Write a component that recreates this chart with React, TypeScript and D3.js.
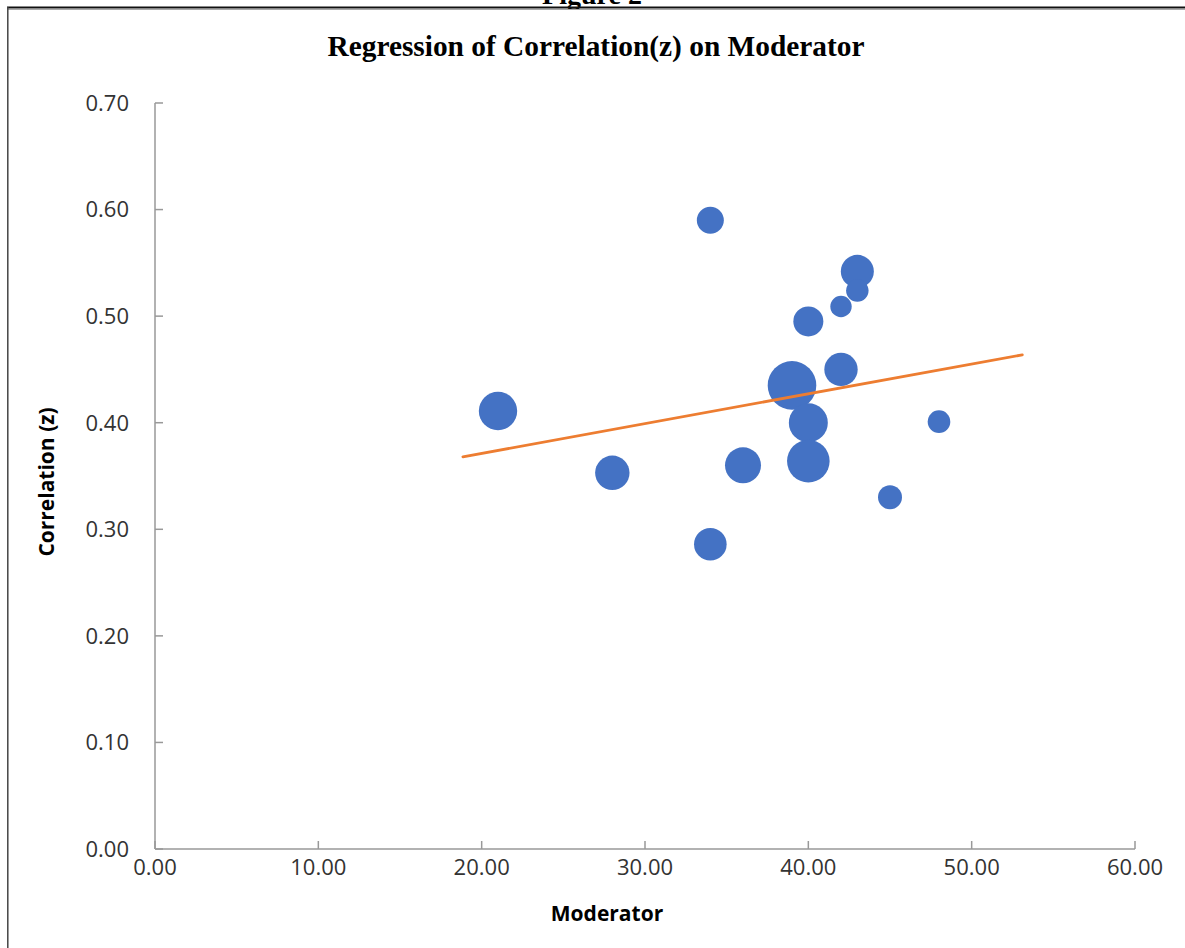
import * as d3 from 'd3';

// bubble data: moderator value, correlation (z), bubble size (weight)
const moderator = [21, 28, 34, 34, 36, 39, 40, 40, 40, 42, 42, 43, 43, 45, 48];
const correlation = [0.411, 0.353, 0.59, 0.286, 0.36, 0.435, 0.495, 0.4, 0.364, 0.45, 0.509, 0.542, 0.524, 0.33, 0.401];
const weight = [374, 301, 185, 270, 329, 600, 229, 386, 461, 283, 116, 277, 128, 146, 130];

// linear trendline end points
const trendX = [18.85, 53.1];
const trendY = [0.368, 0.4637];

const xTicks = [0, 10, 20, 30, 40, 50, 60];
const yTicks = [0, 0.1, 0.2, 0.3, 0.4, 0.5, 0.6, 0.7];

const W = 1185;
const H = 948;

export default function App() {
  const x = d3.scaleLinear().domain([0, 60]).range([155, 1135]);
  const y = d3.scaleLinear().domain([0, 0.7]).range([849, 103]);
  const r = d3.scaleSqrt().domain([0, 600]).range([0, 24.3]);

  const points = moderator.map((m, i) => ({ m, c: correlation[i], w: weight[i] }));

  const trend = d3.line<number>()
    .x(d => x(d))
    .y((d, i) => y(trendY[i]));

  const axisColor = '#999999';
  const labelFont = "'Open Sans', sans-serif";

  return (
    <svg width={W} height={H} style={{ position: 'absolute', left: 0, top: 0 }}>
      <rect width={W} height={H} fill="#fff" />

      {/* page caption cut off at top */}
      <text x={592} y={4} textAnchor="middle" fontFamily="'Liberation Serif', serif" fontWeight="bold" fontSize={28}>
        Figure 2
      </text>
      {/* frame */}
      <line x1={7} x2={W} y1={7.5} y2={7.5} stroke="#111" strokeWidth={2} />
      <line x1={8} x2={W} y1={9.5} y2={9.5} stroke="#aaa" strokeWidth={1} />
      <line x1={7.8} x2={7.8} y1={7} y2={H} stroke="#444" strokeWidth={1.5} />

      {/* title */}
      <text x={596} y={56} textAnchor="middle" fontFamily="'Liberation Serif', serif" fontWeight="bold" fontSize={29}
        textLength={537} lengthAdjust="spacingAndGlyphs">
        Regression of Correlation(z) on Moderator
      </text>

      {/* axes */}
      <line x1={x(0)} x2={x(0)} y1={y(0.7)} y2={y(0)} stroke={axisColor} strokeWidth={1.5} />
      <line x1={x(0)} x2={x(60)} y1={y(0)} y2={y(0)} stroke={axisColor} strokeWidth={1.5} />
      {yTicks.map(t => (
        <g key={'y' + t}>
          <line x1={x(0)} x2={x(0) + 8} y1={y(t)} y2={y(t)} stroke={axisColor} strokeWidth={1.5} />
          <text x={129} y={y(t)} dy="0.36em" textAnchor="end" fontFamily={labelFont} fontSize={22} fill="#333">
            {t.toFixed(2)}
          </text>
        </g>
      ))}
      {xTicks.map(t => (
        <g key={'x' + t}>
          <line x1={x(t)} x2={x(t)} y1={y(0)} y2={y(0) - 8} stroke={axisColor} strokeWidth={1.5} />
          <text x={x(t)} y={875} textAnchor="middle" fontFamily={labelFont} fontSize={22} fill="#333">
            {t.toFixed(2)}
          </text>
        </g>
      ))}

      {/* axis titles */}
      <text x={607} y={921} textAnchor="middle" fontFamily={labelFont} fontWeight="bold" fontSize={21}>
        Moderator
      </text>
      <text transform="translate(53.5,482) rotate(-90)" textAnchor="middle" fontFamily={labelFont} fontWeight="bold" fontSize={21}>
        Correlation (z)
      </text>

      {/* bubbles */}
      {points.map((p, i) => (
        <circle key={i} cx={x(p.m)} cy={y(p.c)} r={r(p.w)} fill="#4472C4" />
      ))}

      {/* trendline */}
      <path d={trend(trendX) || ''} fill="none" stroke="#ED7D31" strokeWidth={2.8} strokeLinecap="round" />
    </svg>
  );
}
